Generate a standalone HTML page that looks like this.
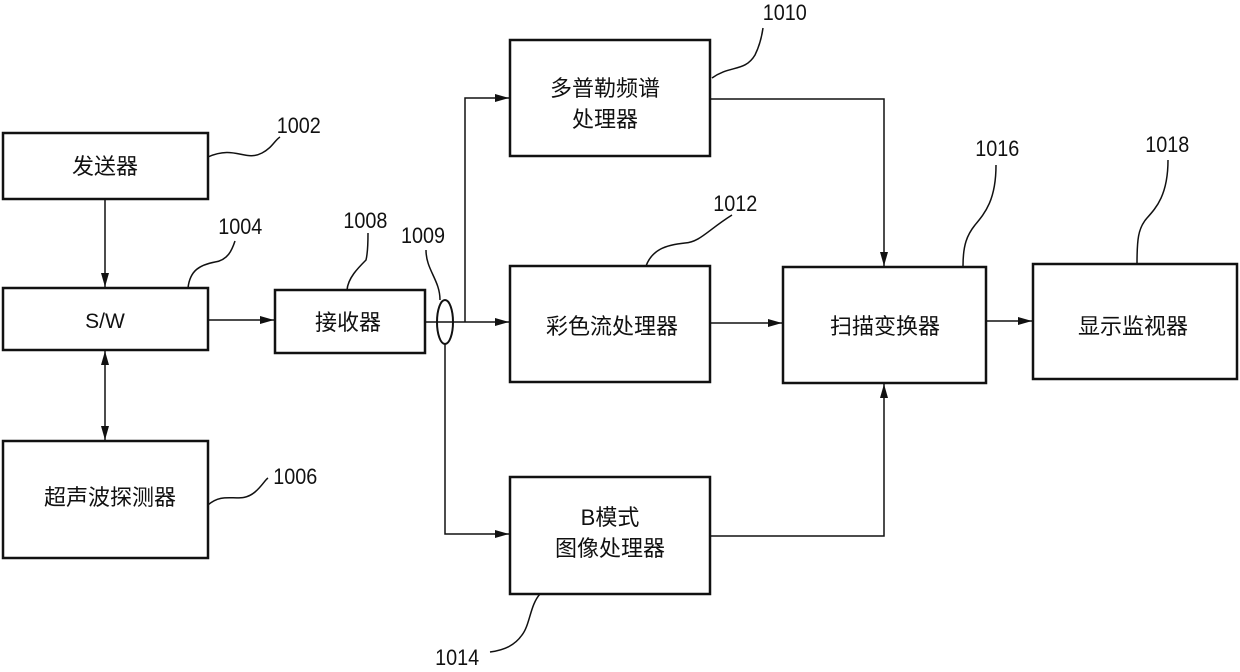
<!DOCTYPE html>
<html><head><meta charset="utf-8"><style>
body{margin:0;background:#fff;}
svg text{font-family:"Liberation Sans","Noto Sans CJK SC",sans-serif;fill:#111;}
</style></head><body>
<svg width="1240" height="667" viewBox="0 0 1240 667" xmlns="http://www.w3.org/2000/svg">
<defs><marker id="a" markerWidth="14" markerHeight="8" refX="14" refY="4" orient="auto" markerUnits="userSpaceOnUse"><path d="M0,0 L14,4 L0,8 z" fill="#111"/></marker>
<marker id="b" markerWidth="14" markerHeight="8" refX="0" refY="4" orient="auto" markerUnits="userSpaceOnUse"><path d="M14,0 L0,4 L14,8 z" fill="#111"/></marker></defs>
<g fill="none" stroke="#111" stroke-width="2.5">
<rect x="3" y="133" width="205" height="66"/>
<rect x="3" y="288" width="205" height="62"/>
<rect x="3" y="441" width="205" height="117"/>
<rect x="275" y="290" width="150" height="63"/>
<rect x="510" y="40" width="200" height="116"/>
<rect x="510" y="266" width="200" height="116"/>
<rect x="510" y="477" width="200" height="117"/>
<rect x="783" y="267" width="203" height="116"/>
<rect x="1033" y="264" width="204" height="115"/>
</g>
<g fill="none" stroke="#111" stroke-width="1.5">
<line x1="105" y1="199" x2="105" y2="287" marker-end="url(#a)"/>
<line x1="105" y1="351" x2="105" y2="440" marker-end="url(#a)" marker-start="url(#b)"/>
<line x1="208" y1="320" x2="274" y2="320" marker-end="url(#a)"/>
<line x1="425" y1="322" x2="509" y2="322" marker-end="url(#a)"/>
<ellipse cx="445" cy="322" rx="8" ry="22" stroke-width="2"/>
<polyline points="465,322 465,98 509,98" marker-end="url(#a)"/>
<polyline points="445,344 445,534 509,534" marker-end="url(#a)"/>
<polyline points="710,99 884,99 884,266" marker-end="url(#a)"/>
<polyline points="710,536 884,536 884,384" marker-end="url(#a)"/>
<line x1="710" y1="323" x2="782" y2="323" marker-end="url(#a)"/>
<line x1="986" y1="321" x2="1032" y2="321" marker-end="url(#a)"/>
<path d="M208,157 C235,145 245,162 262,153 C272,148 275,140 280,137"/>
<path d="M188,288 C190,270 200,265 215,262 C228,260 232,250 235,241"/>
<path d="M347,290 C348,278 358,268 366,260 C368,252 368,240 368,233"/>
<path d="M440,300 C440,280 426,270 426,250"/>
<path d="M208,505 C225,490 240,505 255,492 C262,486 265,480 268,478"/>
<path d="M712,78 C730,65 745,72 755,55 C760,45 762,35 763,28"/>
<path d="M646,266 C652,250 665,245 685,243 C700,242 708,230 732,215"/>
<path d="M963,266 C963,245 967,235 975,225 C985,213 996,200 996,165"/>
<path d="M1137,264 C1137,240 1138,228 1147,218 C1156,208 1168,195 1168,160"/>
<path d="M540,594 C530,605 530,625 522,635 C515,645 505,650 490,652"/>
</g>
<g font-size="22" text-anchor="middle">
<text x="105" y="174">发送器</text>
<text x="105" y="328" font-size="21">S/W</text>
<text x="110" y="505">超声波探测器</text>
<text x="348" y="330">接收器</text>
<text x="605" y="96">多普勒频谱</text>
<text x="605" y="127">处理器</text>
<text x="612" y="334">彩色流处理器</text>
<text x="610" y="525">B模式</text>
<text x="610" y="556">图像处理器</text>
<text x="885" y="334">扫描变换器</text>
<text x="1133" y="334">显示监视器</text>
</g>
<g font-size="22" text-anchor="middle" transform="scale(0.9,1)">
<text x="332" y="133">1002</text>
<text x="267" y="234">1004</text>
<text x="406" y="228">1008</text>
<text x="470" y="243">1009</text>
<text x="328" y="484">1006</text>
<text x="872" y="20">1010</text>
<text x="817" y="211">1012</text>
<text x="1108" y="156">1016</text>
<text x="1297" y="152">1018</text>
<text x="508" y="665">1014</text>
</g>
</svg>
</body></html>
